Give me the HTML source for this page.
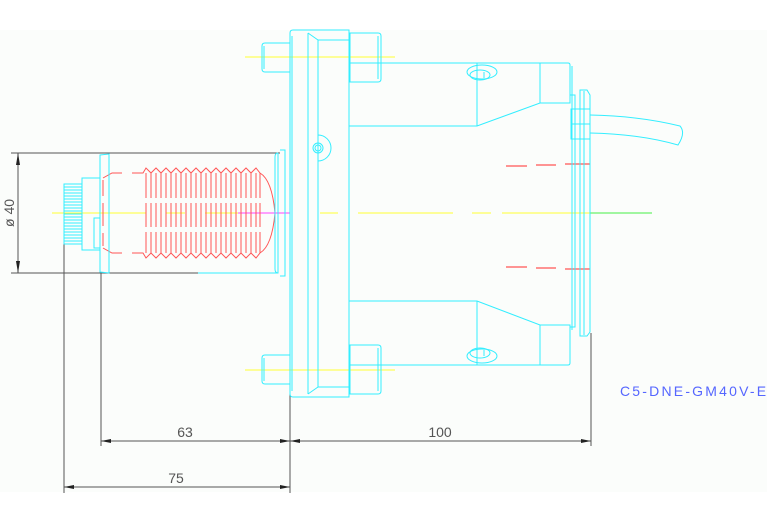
<!DOCTYPE html>
<html><head><meta charset="utf-8"><style>
html,body{margin:0;padding:0;background:#fff}
svg{display:block}
text{font-family:"Liberation Sans",sans-serif}
</style></head><body>
<svg width="767" height="523" viewBox="0 0 767 523" xmlns="http://www.w3.org/2000/svg">
<rect x="0" y="30" width="767" height="462" fill="#fbfdfb"/>
<g stroke="#ffff33" stroke-width="1">
<line x1="52" y1="213" x2="146" y2="213"/>
<line x1="166" y1="213" x2="185" y2="213"/>
<line x1="205" y1="213" x2="238" y2="213"/>
<line x1="320" y1="213" x2="338" y2="213"/>
<line x1="358" y1="213" x2="453" y2="213"/>
<line x1="472" y1="213" x2="491" y2="213"/>
<line x1="502" y1="213" x2="590" y2="213"/>
<line x1="245" y1="57" x2="395" y2="57"/>
<line x1="245" y1="370" x2="395" y2="370"/>
</g>
<line x1="238" y1="213" x2="290" y2="213" stroke="#ff44ff"/>
<line x1="590" y1="213" x2="652" y2="213" stroke="#44ee44"/>
<g stroke="#ff5555" stroke-width="1.2">
<line x1="506" y1="166" x2="527" y2="166"/><line x1="536" y1="165" x2="556" y2="165"/><line x1="565" y1="164" x2="590" y2="164"/>
<line x1="506" y1="267" x2="527" y2="267"/><line x1="536" y1="268" x2="556" y2="268"/><line x1="565" y1="269" x2="590" y2="269"/>
</g>
<g stroke="#ff5555" stroke-width="1" fill="none">
<path d="M103,178 L112,173 L122,173 M132,173 L143,173 L146,168 L151,173 L156,168 L161,173 L166,168 L171,173 L176,168 L181,173 L186,168 L191,173 L196,168 L201,173 L206,168 L211,173 L216,168 L221,173 L226,168 L231,173 L236,168 L241,173 L246,168 L251,173 L256,168 L260,173 Q272,180 275,213 Q272,246 260,253 L256,258 L251,253 L246,258 L241,253 L236,258 L231,253 L226,258 L221,253 L216,258 L211,253 L206,258 L201,253 L196,258 L191,253 L186,258 L181,253 L176,258 L171,253 L166,258 L161,253 L156,258 L151,253 L146,258 L143,253 L132,253 M122,253 L112,253 L103,248"/>
<path d="M146,173V198M151,173V198M156,173V198M161,173V198M166,173V198M171,173V198M176,173V198M181,173V198M186,173V198M191,173V198M196,173V198M201,173V198M206,173V198M211,173V198M216,173V198M221,173V198M226,173V198M231,173V198M236,173V198M241,173V198M246,173V198M251,173V198M256,173V198M260,173V198"/>
<path d="M146,203V227M151,203V227M156,203V227M161,203V227M166,203V227M171,203V227M176,203V227M181,203V227M186,203V227M191,203V227M196,203V227M201,203V227M206,203V227M211,203V227M216,203V227M221,203V227M226,203V227M231,203V227M236,203V227M241,203V227M246,203V227M251,203V227M256,203V227M260,203V227"/>
<path d="M146,232V253M151,232V253M156,232V253M161,232V253M166,232V253M171,232V253M176,232V253M181,232V253M186,232V253M191,232V253M196,232V253M201,232V253M206,232V253M211,232V253M216,232V253M221,232V253M226,232V253M231,232V253M236,232V253M241,232V253M246,232V253M251,232V253M256,232V253M260,232V253"/>
<path d="M103,180V196M103,203V226M103,233V246"/>
</g>
<g stroke="#555" stroke-width="1" fill="none">
<line x1="11" y1="153" x2="280" y2="153"/>
<line x1="11" y1="273" x2="198" y2="273"/>
<line x1="18" y1="153" x2="18" y2="273"/>
<line x1="64" y1="227" x2="64" y2="493"/>
<line x1="101" y1="272" x2="101" y2="446"/>
<line x1="290" y1="392" x2="290" y2="493"/>
<line x1="591" y1="333" x2="591" y2="446"/>
<line x1="101" y1="441" x2="591" y2="441"/>
<line x1="64" y1="487" x2="290" y2="487"/>
</g>
<g fill="#222">
<path d="M18,153 l-2,12 h4z"/><path d="M18,273 l-2,-12 h4z"/>
<path d="M101,441 l10,-2 v4z"/><path d="M290,441 l-10,-2 v4z"/>
<path d="M290,441 l10,-2 v4z"/><path d="M591,441 l-10,-2 v4z"/>
<path d="M64,487 l10,-2 v4z"/><path d="M290,487 l-10,-2 v4z"/>
</g>
<g fill="#555" font-size="14">
<text x="185" y="437" text-anchor="middle">63</text>
<text x="440" y="437" text-anchor="middle">100</text>
<text x="176" y="483" text-anchor="middle">75</text>
<text transform="translate(14,213) rotate(-90)" text-anchor="middle">ø 40</text>
</g>
<text x="620" y="396" fill="#5566ff" font-size="14" letter-spacing="2.2">C5-DNE-GM40V-E</text>
<g stroke="#33eeff" stroke-width="1" fill="none">
<rect x="64" y="184" width="18" height="60"/>
<path d="M64,187h18M64,190h18M64,193h18M64,196h18M64,199h18M64,202h18M64,205h18M64,208h18M64,211h18M64,214h18M64,217h18M64,220h18M64,223h18M64,226h18M64,229h18M64,232h18M64,235h18M64,238h18M64,241h18"/>
<rect x="82" y="178" width="18" height="72"/>
<rect x="94" y="218" width="6" height="30"/>
<path d="M100,155 L109,154 L109,273 L100,272Z"/>
<path d="M198,273 H278 V153"/>
<path d="M278,153 q-3,0 -3,4 V269 q0,4 3,4"/>
<path d="M280,150 H285 V276 H280"/>
<path d="M290,33 q0,-3 3,-3 H349 V397 H293 q-3,0 -3,-3 Z"/>
<path d="M308,33 V394 M318,40 V387 M308,33 L318,40 M308,394 L318,387 M318,40 H349 M318,387 H349"/>
<path d="M292,36 V391"/>
<circle cx="318" cy="148" r="5"/><circle cx="318" cy="148" r="3"/>
<path d="M318,135 a13,13 0 0 1 0,26"/>
<path d="M262,46 q0,-3 3,-3 H290 V72 H265 q-3,0 -3,-3Z"/>
<path d="M264,46V69"/>
<path d="M350,33 H378 q3,0 3,3 V79 q0,3 -3,3 H350Z"/>
<path d="M378,36V79"/>
<path d="M262,358 q0,-3 3,-3 H290 V384 H265 q-3,0 -3,-3Z"/>
<path d="M264,358V381"/>
<path d="M350,345 H378 q3,0 3,3 V391 q0,3 -3,3 H350Z"/>
<path d="M378,348V391"/>
<path d="M349,126 V63 H568 q2,0 2,2 V103 H540 L477,126 Z"/>
<path d="M381,63 H349 M477,63 V126 M540,63 V103 M572,66 V330"/>
<ellipse cx="482" cy="72" rx="15" ry="7"/><ellipse cx="480" cy="75" rx="10" ry="5"/><path d="M477,72 V78 M484,72 V78"/>
<path d="M349,301 V365 H568 q2,0 2,-2 V325 H540 L477,301 Z"/>
<path d="M477,301 V365 M540,325 V365"/>
<ellipse cx="482" cy="356" rx="15" ry="7"/><ellipse cx="480" cy="353" rx="10" ry="5"/><path d="M477,350 V356 M484,350 V356"/>
<path d="M570,95 H575 V327 H570"/>
<path d="M580,90 H587 L590,95 V332 L587,336 H580Z"/>
<path d="M584,91 V335"/>
<rect x="571" y="109" width="19" height="30"/><line x1="571" y1="124" x2="590" y2="124"/>
<path d="M590,115 Q640,116 680,126 Q686,133 678,145 Q640,134 590,133"/>
</g>
</svg>
</body></html>
